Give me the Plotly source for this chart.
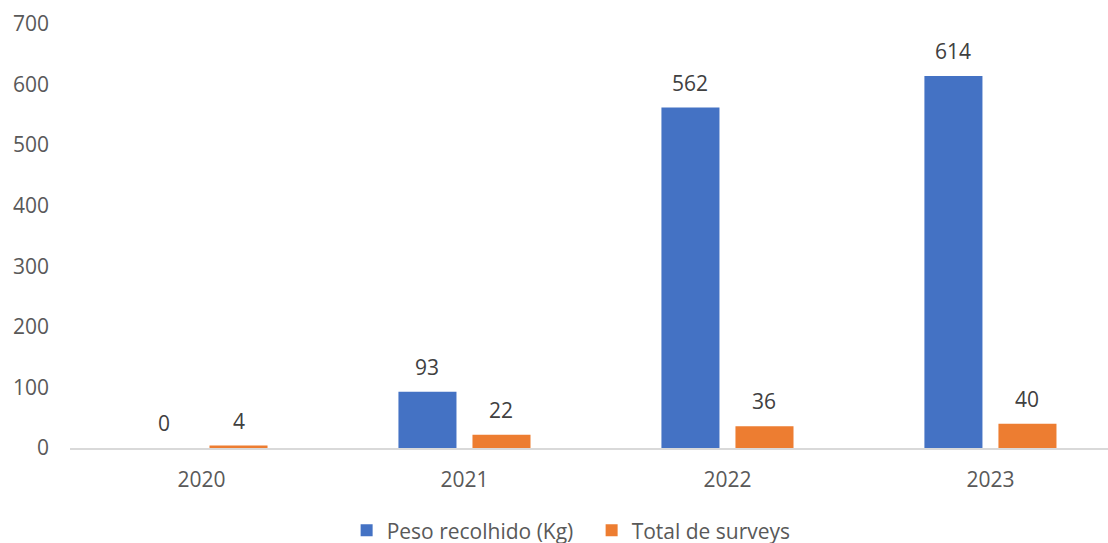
import plotly.graph_objects as go

# Data
years = ["2020", "2021", "2022", "2023"]
peso_kg = [0, 93, 562, 614]
total_surveys = [4, 22, 36, 40]

series_names = ["Peso recolhido (Kg)", "Total de surveys"]
colors = ["#4472C4", "#ED7D31"]

FONT = "Open Sans"
TICK_COLOR = "#595959"
LABEL_COLOR = "#404040"

BARGAP = 0.437
BARGROUPGAP = 0.216
pos = list(range(len(years)))
slot = (1 - BARGAP) / 2  # width reserved for each series inside a group

fig = go.Figure()
for name, vals, col in zip(series_names, [peso_kg, total_surveys], colors):
    fig.add_trace(go.Bar(
        x=pos, y=vals, name=name,
        marker=dict(color=col, line=dict(width=0)),
    ))

# Value labels above each bar
annotations = []
for k, vals in enumerate([peso_kg, total_surveys]):
    off = (k - 0.5) * slot
    for i, v in enumerate(vals):
        annotations.append(dict(
            x=pos[i] + off, y=v, xref="x", yref="y",
            text=str(v), showarrow=False,
            yanchor="middle", yshift=25,
            font=dict(family=FONT, size=21, color=LABEL_COLOR),
        ))

fig.update_layout(
    width=1108, height=543,
    margin=dict(l=70, r=0, t=24, b=95, autoexpand=False),
    paper_bgcolor="white", plot_bgcolor="white",
    barmode="group", bargap=BARGAP, bargroupgap=BARGROUPGAP,
    font=dict(family=FONT, size=21, color=TICK_COLOR),
    showlegend=True,
    legend=dict(
        orientation="h", x=0.2665, xanchor="left", y=-0.195, yanchor="middle",
        font=dict(family=FONT, size=21, color=TICK_COLOR),
        traceorder="normal", entrywidth=200,
    ),
    annotations=annotations,
    xaxis=dict(
        tickmode="array", tickvals=pos, ticktext=years,
        range=[-0.5, 3.447], showgrid=False, zeroline=False,
        showline=True, linecolor="#D9D9D9", linewidth=1.5,
        ticks="", ticklabelstandoff=12, fixedrange=True,
    ),
    yaxis=dict(
        range=[0, 700], dtick=100, showgrid=False, zeroline=False,
        showline=False, ticks="", ticklabelstandoff=20,
    ),
)

fig.write_html("out.html")
